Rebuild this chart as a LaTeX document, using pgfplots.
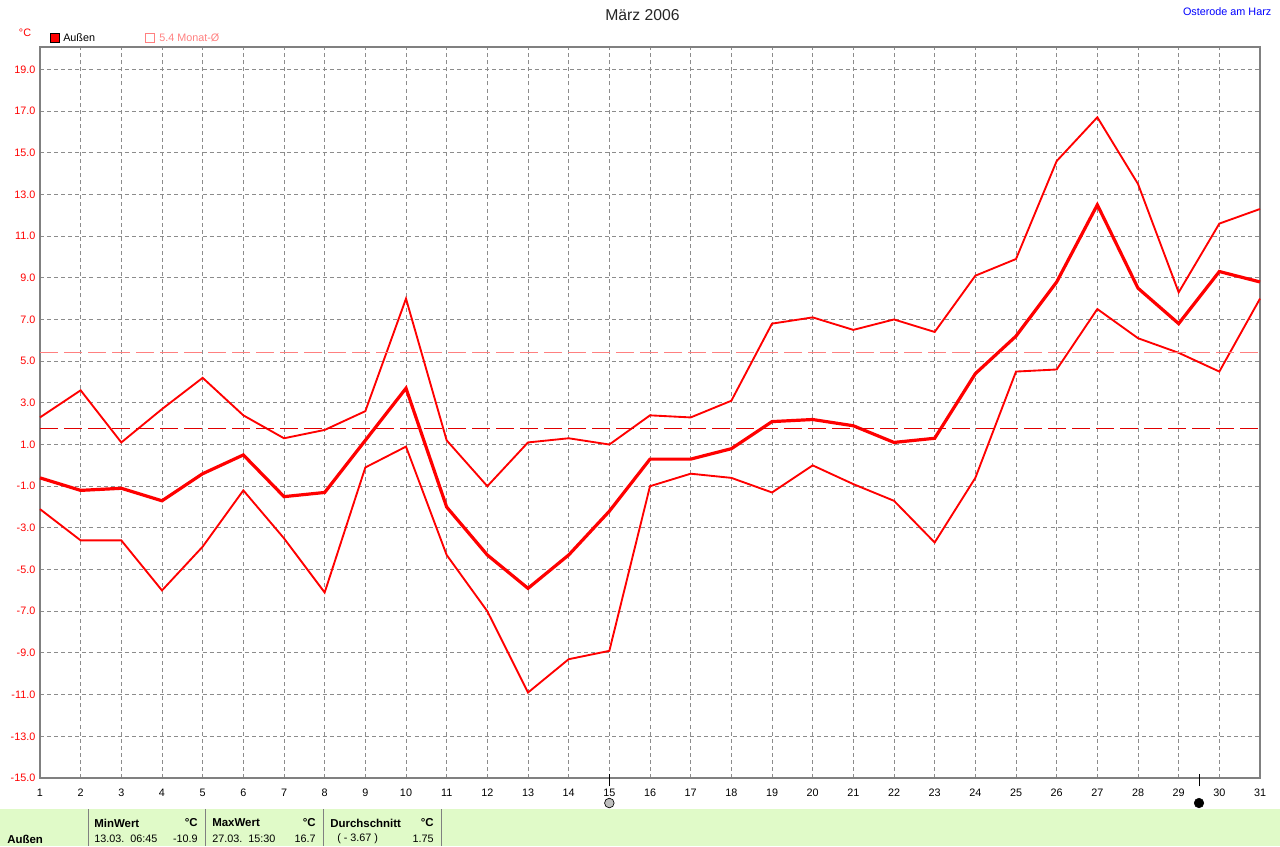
\documentclass[border=0pt]{standalone}
\usepackage{pgfplots}
\pgfplotsset{compat=1.18}
\usepackage{fontspec}
\setmainfont{Liberation Sans}
\definecolor{axg}{RGB}{128,128,128}
\definecolor{gridg}{RGB}{140,140,140}
\definecolor{foot}{RGB}{224,250,200}
\definecolor{lred}{RGB}{255,128,128}
\begin{document}
\begin{tikzpicture}[x=0.75pt,y=-0.75pt,font=\fontsize{8.1pt}{9pt}\selectfont]
\path[use as bounding box] (0,0) rectangle (1280,846);
\fill[foot] (0,809) rectangle (1280,846);
\foreach \xx in {88.5,205.5,323.5,441.5} \draw[axg,line width=0.9pt] (\xx,809) -- (\xx,846);
\begin{axis}[
  at={(30pt,-583.5pt)},anchor=south west,
  scale only axis,width=915pt,height=547.9pt,
  xmin=1,xmax=31,ymin=-15,ymax=20.05,
  clip=false,
  axis line style={axg,line width=1.5pt},
  axis lines=box,
  xtick={1,...,31},
  ytick={-15,-13,-11,-9,-7,-5,-3,-1,1,3,5,7,9,11,13,15,17,19},
  xticklabel={\pgfmathprintnumber[assume math mode=true,fixed,precision=0]{\tick}},
  yticklabel={\pgfmathprintnumber[assume math mode=true,fixed,fixed zerofill,precision=1]{\tick}},
  xticklabel style={black,yshift=-5pt},
  yticklabel style={red,xshift=0pt},
  tick style={draw=none},
  major tick length=0pt,
  grid=major,
  grid style={gridg,line width=0.7pt,dash pattern=on 3pt off 2.3pt},
]
\addplot[red,line width=1.4pt] coordinates {(1,2.3)(2,3.6)(3,1.1)(4,2.7)(5,4.2)(6,2.4)(7,1.3)(8,1.7)(9,2.6)(10,8.0)(11,1.2)(12,-1.0)(13,1.1)(14,1.3)(15,1.0)(16,2.4)(17,2.3)(18,3.1)(19,6.8)(20,7.1)(21,6.5)(22,7.0)(23,6.4)(24,9.1)(25,9.9)(26,14.6)(27,16.7)(28,13.5)(29,8.3)(30,11.6)(31,12.3)};
\addplot[red,line width=1.4pt] coordinates {(1,-2.1)(2,-3.6)(3,-3.6)(4,-6.0)(5,-3.9)(6,-1.2)(7,-3.5)(8,-6.1)(9,-0.1)(10,0.9)(11,-4.3)(12,-7.0)(13,-10.9)(14,-9.3)(15,-8.9)(16,-1.0)(17,-0.4)(18,-0.6)(19,-1.3)(20,0.0)(21,-0.9)(22,-1.7)(23,-3.7)(24,-0.6)(25,4.5)(26,4.6)(27,7.5)(28,6.1)(29,5.4)(30,4.5)(31,8.0)};
\addplot[red,line width=2.4pt] coordinates {(1,-0.6)(2,-1.2)(3,-1.1)(4,-1.7)(5,-0.4)(6,0.5)(7,-1.5)(8,-1.3)(9,1.2)(10,3.7)(11,-2.0)(12,-4.3)(13,-5.9)(14,-4.3)(15,-2.2)(16,0.3)(17,0.3)(18,0.8)(19,2.1)(20,2.2)(21,1.9)(22,1.1)(23,1.3)(24,4.4)(25,6.2)(26,8.8)(27,12.5)(28,8.5)(29,6.8)(30,9.3)(31,8.8)};
\addplot[lred,line width=0.75pt,dash pattern=on 13.5pt off 4.5pt] coordinates {(1,5.4)(31,5.4)};
\addplot[red!88!black,line width=0.75pt,dash pattern=on 13.5pt off 4.5pt] coordinates {(1,1.75)(31,1.75)};
\addplot[black,line width=0.75pt] coordinates {(15,-15.4)(15,-14.8)};
\addplot[black,line width=0.75pt] coordinates {(29.5,-15.4)(29.5,-14.8)};
\addplot[only marks,mark=*,mark size=3.6pt,mark options={draw=black,fill=black!25,line width=0.5pt}] coordinates {(15,-16.2)};
\addplot[only marks,mark=*,mark size=3.6pt,mark options={draw=black,fill=black}] coordinates {(29.5,-16.2)};
\end{axis}
\node[font=\fontsize{11.8pt}{13pt}\selectfont,text=black!85] at (642.5,15) {März 2006};
\node[text=blue,anchor=east] at (1276,12) {Osterode am Harz};
\node[text=red,anchor=center] at (25,33) {°C};
\draw[black,fill=red,line width=0.7pt] (50.5,33) rectangle (59.5,42);
\node[anchor=west,inner sep=0pt] at (63,38) {Außen};
\draw[lred,line width=0.7pt] (145.5,33) rectangle (154.5,42);
\node[anchor=west,inner sep=0pt,text=lred] at (159,38) {5.4 Monat-Ø};
\begin{scope}[every node/.style={inner sep=0pt}]
\node[anchor=west,font=\fontsize{8.6pt}{9pt}\selectfont\bfseries] at (7,839) {Außen};
\node[anchor=west,font=\fontsize{8.6pt}{9pt}\selectfont\bfseries] at (94,823) {MinWert};
\node[anchor=east,font=\fontsize{8.6pt}{9pt}\selectfont\bfseries] at (198,823) {°C};
\node[anchor=west] at (94,839) {13.03.\ \ 06:45};
\node[anchor=east] at (198,839) {-10.9};
\node[anchor=west,font=\fontsize{8.6pt}{9pt}\selectfont\bfseries] at (212,823) {MaxWert};
\node[anchor=east,font=\fontsize{8.6pt}{9pt}\selectfont\bfseries] at (316,823) {°C};
\node[anchor=west] at (212,839) {27.03.\ \ 15:30};
\node[anchor=east] at (316,839) {16.7};
\node[anchor=west,font=\fontsize{8.6pt}{9pt}\selectfont\bfseries] at (330,823) {Durchschnitt};
\node[anchor=east,font=\fontsize{8.6pt}{9pt}\selectfont\bfseries] at (434,823) {°C};
\node[anchor=west] at (337,839) {( - 3.67 )};
\node[anchor=east] at (434,839) {1.75};
\end{scope}
\end{tikzpicture}
\end{document}
